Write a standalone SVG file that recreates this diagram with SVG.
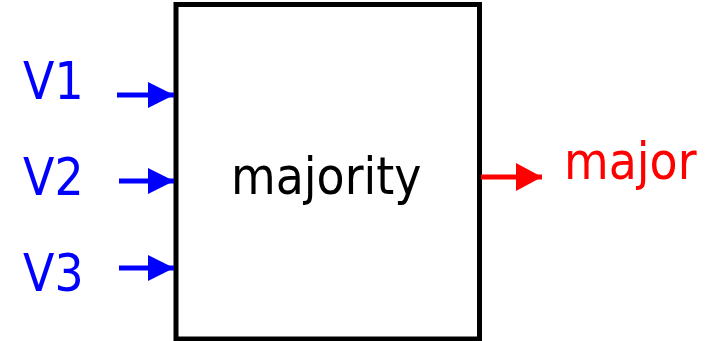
<svg xmlns="http://www.w3.org/2000/svg" width="716" height="341" viewBox="0 0 716 341">
<style>
.lbl{font-family:"DejaVu Sans Condensed","DejaVu Sans",sans-serif;font-stretch:condensed;font-size:51px}
.in{fill:#0000ff}
.out{fill:#ff0000}
.wb{stroke:#0000ff;stroke-width:5;fill:none}
.wr{stroke:#ff0000;stroke-width:5;fill:none}
</style>
<defs>
<marker id="ab" markerUnits="userSpaceOnUse" markerWidth="26" markerHeight="26" refX="26" refY="13" orient="auto"><path d="M0,0 L26,13 L0,26 Z" fill="#0000ff"/></marker>
<marker id="ar" markerUnits="userSpaceOnUse" markerWidth="26" markerHeight="28" refX="26" refY="14" orient="auto"><path d="M0,0 L26,14 L0,28 Z" fill="#ff0000"/></marker>
</defs>
<g id="majority">
<rect x="176" y="4.5" width="303.5" height="334.5" fill="#ffffff" stroke="#000000" stroke-width="5"/>
<text x="231" y="194" class="lbl" fill="#000000">majority</text>
</g>
<g id="V1"><text x="23" y="99" class="lbl in">V1</text></g>
<g id="V2"><text x="23" y="195" class="lbl in">V2</text></g>
<g id="V3"><text x="23" y="291" class="lbl in">V3</text></g>
<g id="major"><text x="564" y="179" class="lbl out">major</text></g>
<g id="connectors">
<line x1="117" y1="95" x2="174" y2="95" class="wb" marker-end="url(#ab)"/>
<line x1="119" y1="181" x2="174" y2="181" class="wb" marker-end="url(#ab)"/>
<line x1="119" y1="268" x2="174" y2="268" class="wb" marker-end="url(#ab)"/>
<line x1="481" y1="177" x2="542" y2="177" class="wr" marker-end="url(#ar)"/>
</g>
</svg>
